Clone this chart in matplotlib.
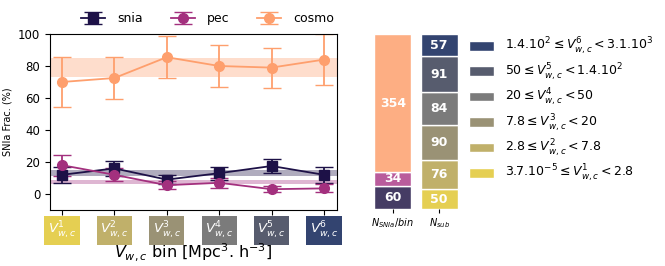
import matplotlib
matplotlib.use("Agg")
import matplotlib.pyplot as plt
import numpy as np
from matplotlib.patches import Patch

bins = [r"$V^{1}_{w,c}$", r"$V^{2}_{w,c}$", r"$V^{3}_{w,c}$", r"$V^{4}_{w,c}$", r"$V^{5}_{w,c}$", r"$V^{6}_{w,c}$"]
bin_colors = ["#e5cf52", "#c0b06a", "#9a9275", "#7b7b7b", "#575c6e", "#334470"]

snia = [12, 16, 9, 13, 17.5, 12]
snia_err = [5, 4.5, 3, 4, 4.5, 5]
pec = [18, 12, 5.5, 7, 3, 3.5]
pec_err = [6.5, 4, 2.5, 3, 2, 2.5]
cosmo = [70, 72.5, 85.5, 80, 79, 84]
cosmo_err = [15.5, 13, 13, 13, 12.5, 16]

snia_band = (11, 15)
pec_band = (6, 9)
cosmo_band = (73, 85)

n_types = [60, 34, 354]
n_sub = [50, 76, 90, 84, 91, 57]
legend_labels = [
    r"$3.7.10^{-5} \leq V^{1}_{w,c} < 2.8$",
    r"$2.8 \leq V^{2}_{w,c} < 7.8$",
    r"$7.8 \leq V^{3}_{w,c} < 20$",
    r"$20 \leq V^{4}_{w,c} < 50$",
    r"$50 \leq V^{5}_{w,c} < 1.4.10^{2}$",
    r"$1.4.10^{2} \leq V^{6}_{w,c} < 3.1.10^{3}$",
]

c_snia = "#1d1147"
c_pec = "#a3307e"
c_cosmo = "#fe9f6d"
bar_type_colors = ["#453c64", "#b95c9c", "#fdae83"]

W, H = 665, 266
fig = plt.figure(figsize=(W / 100, H / 100), dpi=100)

ax = fig.add_axes([50 / W, 1 - 210 / H, 287 / W, 176 / H])
x = np.arange(len(bins))
ax.axhspan(*cosmo_band, color=c_cosmo, alpha=0.35, lw=0)
ax.axhspan(*snia_band, color=c_snia, alpha=0.35, lw=0)
ax.axhspan(*pec_band, color=c_pec, alpha=0.35, lw=0)
ax.errorbar(x, snia, yerr=snia_err, color=c_snia, marker="s", ms=7, capsize=6.5, lw=1.3, label="snia")
ax.errorbar(x, pec, yerr=pec_err, color=c_pec, marker="o", ms=7, capsize=6.5, lw=1.3, label="pec")
ax.errorbar(x, cosmo, yerr=cosmo_err, color=c_cosmo, marker="o", ms=7, capsize=6.5, lw=1.3, label="cosmo")
ax.set_xlim(-0.23, 5.25)
ax.set_ylim(-10, 100)
ax.set_yticks([0, 20, 40, 60, 80, 100])
ax.tick_params(axis="y", labelsize=8.5)
ax.set_ylabel("SNIa Frac. (%)", fontsize=7, labelpad=4)
ax.set_xticks(x)
ax.set_xticklabels(bins, fontsize=9.5, color="white")
for lab, c in zip(ax.get_xticklabels(), bin_colors):
    lab.set_bbox(dict(facecolor=c, edgecolor="none", pad=2.5))
ax.tick_params(axis="x", pad=3.5)
fig.text((50 + 287 / 2) / W, 1 - 252 / H, r"$V_{w,c}$ bin [Mpc$^{3}$. h$^{-3}$]",
         fontsize=11.5, ha="center", va="center")
ax.legend(loc="lower center", bbox_to_anchor=(0.55, 1.02), ncol=3, frameon=False, fontsize=9,
          handlelength=1.9, columnspacing=2.2, borderaxespad=0, handletextpad=1.0)

ax2 = fig.add_axes([372 / W, 1 - 209 / H, 88 / W, 175 / H])
bottom = 0
for v, c in zip(n_types, bar_type_colors):
    ax2.bar(0, v, bottom=bottom, width=0.8, color=c, edgecolor="white", lw=1)
    ax2.text(0, bottom + v / 2, str(v), ha="center", va="center", color="white", fontsize=9, fontweight="bold")
    bottom += v
bottom = 0
for v, c in zip(n_sub, bin_colors):
    ax2.bar(1, v, bottom=bottom, width=0.8, color=c, edgecolor="white", lw=1)
    ax2.text(1, bottom + v / 2, str(v), ha="center", va="center", color="white", fontsize=9, fontweight="bold")
    bottom += v
ax2.set_xlim(-0.45, 1.45)
ax2.set_ylim(0, sum(n_sub))
for s in ax2.spines.values():
    s.set_visible(False)
ax2.set_yticks([])
ax2.set_xticks([0, 1])
ax2.set_xticklabels([r"$N_{SNIa}/bin$", r"$N_{sub}$"], fontsize=7)
ax2.tick_params(axis="x", length=3, pad=2)

handles = [Patch(facecolor=c, edgecolor="white") for c in bin_colors[::-1]]
fig.legend(handles, legend_labels[::-1], loc="upper left", bbox_to_anchor=(464 / W, 1 - 31 / H),
           frameon=False, fontsize=9, handlelength=2.0, handleheight=0.8, labelspacing=0.32,
           handletextpad=0.9, borderaxespad=0)

fig.savefig("out.png", dpi=100)
